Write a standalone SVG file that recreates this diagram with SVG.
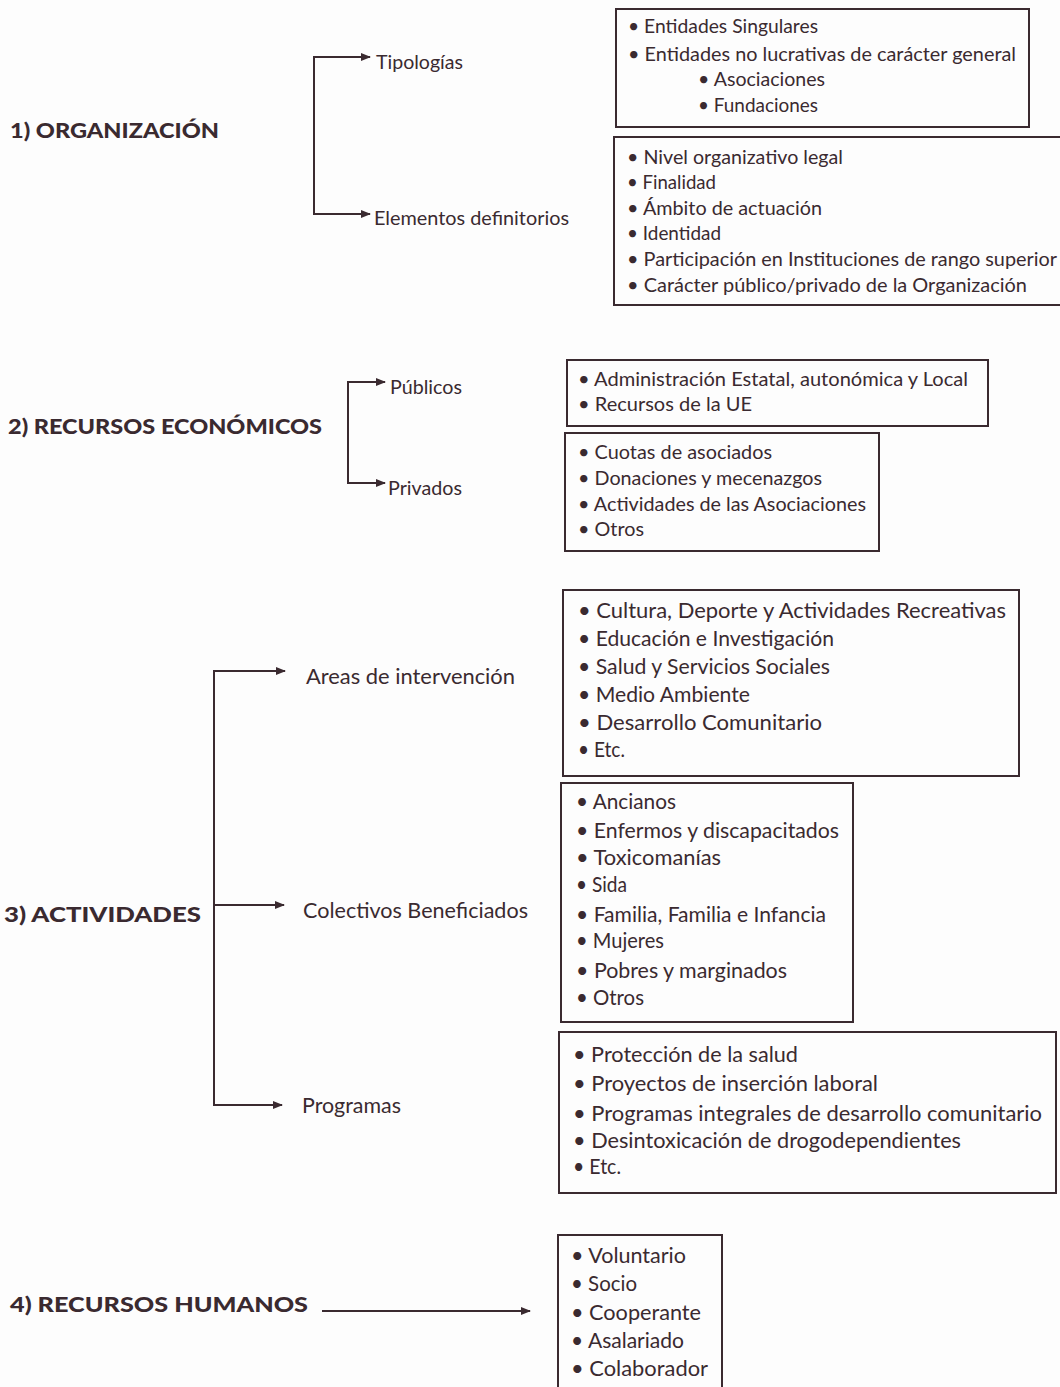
<svg xmlns="http://www.w3.org/2000/svg" width="1060" height="1387" viewBox="0 0 1060 1387">
<defs>
<marker id="ah" markerWidth="10" markerHeight="8" refX="9" refY="4" orient="auto" markerUnits="userSpaceOnUse">
<path d="M0,0 L10,4 L0,8 Z" fill="#3a2a30"/>
</marker>
<style>
text{font-family:Lato,"Noto Sans","Liberation Sans",sans-serif;fill:#3a2a30}
.h{font-weight:900;font-size:21px}
.l{font-size:20px}
.i{font-size:20px}
.j{font-size:21px}
.box{fill:none;stroke:#3a2a30;stroke-width:2}
.c{fill:none;stroke:#3a2a30;stroke-width:2}
</style>
</defs>
<rect width="1060" height="1387" fill="#fdfdfd"/>

<g id="connectors">
<path class="c" d="M314,57 V214"/>
<path class="c" d="M313,214 H370" marker-end="url(#ah)"/>
<path class="c" d="M313,57 H370" marker-end="url(#ah)"/>
<path class="c" d="M348,382 V483"/>
<path class="c" d="M347,382 H385" marker-end="url(#ah)"/>
<path class="c" d="M347,483 H385" marker-end="url(#ah)"/>
<path class="c" d="M214,671 V1105"/>
<path class="c" d="M213,671 H285" marker-end="url(#ah)"/>
<path class="c" d="M214,905 H284" marker-end="url(#ah)"/>
<path class="c" d="M213,1105 H282" marker-end="url(#ah)"/>
<path class="c" d="M322,1311 H530" marker-end="url(#ah)"/>
</g>

<g id="organizacion"><text class="h" x="10" y="138" textLength="209" lengthAdjust="spacingAndGlyphs">1) ORGANIZACIÓN</text></g>
<g id="tipologias"><text class="l" x="376" y="69" textLength="87" lengthAdjust="spacingAndGlyphs">Tipologías</text></g>
<g id="elementos"><text class="l" x="374" y="225" textLength="195" lengthAdjust="spacingAndGlyphs">Elementos definitorios</text></g>

<g id="box-tipologias">
<rect class="box" x="616" y="9" width="413" height="118"/>
<text class="i" x="628" y="33" textLength="190" lengthAdjust="spacingAndGlyphs">• Entidades Singulares</text>
<text class="i" x="628" y="61" textLength="388" lengthAdjust="spacingAndGlyphs">• Entidades no lucrativas de carácter general</text>
<text class="i" x="698" y="86" textLength="127" lengthAdjust="spacingAndGlyphs">• Asociaciones</text>
<text class="i" x="698" y="112" textLength="120" lengthAdjust="spacingAndGlyphs">• Fundaciones</text>
</g>

<g id="box-elementos">
<rect class="box" x="614" y="137" width="460" height="168"/>
<text class="i" x="627" y="164" textLength="216" lengthAdjust="spacingAndGlyphs">• Nivel organizativo legal</text>
<text class="i" x="627" y="189" textLength="89" lengthAdjust="spacingAndGlyphs">• Finalidad</text>
<text class="i" x="627" y="215" textLength="195" lengthAdjust="spacingAndGlyphs">• Ámbito de actuación</text>
<text class="i" x="627" y="240" textLength="94" lengthAdjust="spacingAndGlyphs">• Identidad</text>
<text class="i" x="627" y="266" textLength="430" lengthAdjust="spacingAndGlyphs">• Participación en Instituciones de rango superior</text>
<text class="i" x="627" y="292" textLength="400" lengthAdjust="spacingAndGlyphs">• Carácter público/privado de la Organización</text>
</g>

<g id="recursos-economicos"><text class="h" x="8" y="434" textLength="314" lengthAdjust="spacingAndGlyphs">2) RECURSOS ECONÓMICOS</text></g>
<g id="publicos"><text class="l" x="390" y="394" textLength="72" lengthAdjust="spacingAndGlyphs">Públicos</text></g>
<g id="privados"><text class="l" x="388" y="495" textLength="74" lengthAdjust="spacingAndGlyphs">Privados</text></g>

<g id="box-publicos">
<rect class="box" x="567" y="360" width="421" height="66"/>
<text class="i" x="578" y="386" textLength="390" lengthAdjust="spacingAndGlyphs">• Administración Estatal, autonómica y Local</text>
<text class="i" x="578" y="411" textLength="174" lengthAdjust="spacingAndGlyphs">• Recursos de la UE</text>
</g>

<g id="box-privados">
<rect class="box" x="565" y="433" width="314" height="118"/>
<text class="i" x="578" y="459" textLength="194" lengthAdjust="spacingAndGlyphs">• Cuotas de asociados</text>
<text class="i" x="578" y="485" textLength="244" lengthAdjust="spacingAndGlyphs">• Donaciones y mecenazgos</text>
<text class="i" x="578" y="511" textLength="288" lengthAdjust="spacingAndGlyphs">• Actividades de las Asociaciones</text>
<text class="i" x="578" y="536" textLength="66" lengthAdjust="spacingAndGlyphs">• Otros</text>
</g>

<g id="actividades"><text class="h" x="4" y="922" textLength="197" lengthAdjust="spacingAndGlyphs">3) ACTIVIDADES</text></g>
<g id="areas"><text class="j" x="306" y="684" textLength="209" lengthAdjust="spacingAndGlyphs">Areas de intervención</text></g>
<g id="colectivos"><text class="j" x="303" y="918" textLength="225" lengthAdjust="spacingAndGlyphs">Colectivos Beneficiados</text></g>
<g id="programas"><text class="j" x="302" y="1113" textLength="99" lengthAdjust="spacingAndGlyphs">Programas</text></g>

<g id="box-areas">
<rect class="box" x="563" y="590" width="456" height="186"/>
<text class="j" x="578" y="618" textLength="428" lengthAdjust="spacingAndGlyphs">• Cultura, Deporte y Actividades Recreativas</text>
<text class="j" x="578" y="646" textLength="256" lengthAdjust="spacingAndGlyphs">• Educación e Investigación</text>
<text class="j" x="578" y="674" textLength="252" lengthAdjust="spacingAndGlyphs">• Salud y Servicios Sociales</text>
<text class="j" x="578" y="702" textLength="172" lengthAdjust="spacingAndGlyphs">• Medio Ambiente</text>
<text class="j" x="578" y="730" textLength="244" lengthAdjust="spacingAndGlyphs">• Desarrollo Comunitario</text>
<text class="j" x="578" y="757" textLength="47" lengthAdjust="spacingAndGlyphs">• Etc.</text>
</g>

<g id="box-colectivos">
<rect class="box" x="561" y="783" width="292" height="239"/>
<text class="j" x="576" y="809" textLength="100" lengthAdjust="spacingAndGlyphs">• Ancianos</text>
<text class="j" x="576" y="838" textLength="263" lengthAdjust="spacingAndGlyphs">• Enfermos y discapacitados</text>
<text class="j" x="576" y="865" textLength="145" lengthAdjust="spacingAndGlyphs">• Toxicomanías</text>
<text class="j" x="576" y="892" textLength="51" lengthAdjust="spacingAndGlyphs">• Sida</text>
<text class="j" x="576" y="922" textLength="250" lengthAdjust="spacingAndGlyphs">• Familia, Familia e Infancia</text>
<text class="j" x="576" y="948" textLength="88" lengthAdjust="spacingAndGlyphs">• Mujeres</text>
<text class="j" x="576" y="978" textLength="211" lengthAdjust="spacingAndGlyphs">• Pobres y marginados</text>
<text class="j" x="576" y="1005" textLength="68" lengthAdjust="spacingAndGlyphs">• Otros</text>
</g>

<g id="box-programas">
<rect class="box" x="559" y="1032" width="497" height="161"/>
<text class="j" x="573" y="1062" textLength="225" lengthAdjust="spacingAndGlyphs">• Protección de la salud</text>
<text class="j" x="573" y="1091" textLength="305" lengthAdjust="spacingAndGlyphs">• Proyectos de inserción laboral</text>
<text class="j" x="573" y="1121" textLength="469" lengthAdjust="spacingAndGlyphs">• Programas integrales de desarrollo comunitario</text>
<text class="j" x="573" y="1148" textLength="388" lengthAdjust="spacingAndGlyphs">• Desintoxicación de drogodependientes</text>
<text class="j" x="573" y="1174" textLength="48" lengthAdjust="spacingAndGlyphs">• Etc.</text>
</g>

<g id="recursos-humanos"><text class="h" x="10" y="1312" textLength="298" lengthAdjust="spacingAndGlyphs">4) RECURSOS HUMANOS</text></g>

<g id="box-humanos">
<rect class="box" x="558" y="1235" width="164" height="170"/>
<text class="j" x="571" y="1263" textLength="115" lengthAdjust="spacingAndGlyphs">• Voluntario</text>
<text class="j" x="571" y="1291" textLength="66" lengthAdjust="spacingAndGlyphs">• Socio</text>
<text class="j" x="571" y="1320" textLength="130" lengthAdjust="spacingAndGlyphs">• Cooperante</text>
<text class="j" x="571" y="1348" textLength="113" lengthAdjust="spacingAndGlyphs">• Asalariado</text>
<text class="j" x="571" y="1376" textLength="137" lengthAdjust="spacingAndGlyphs">• Colaborador</text>
</g>
</svg>
